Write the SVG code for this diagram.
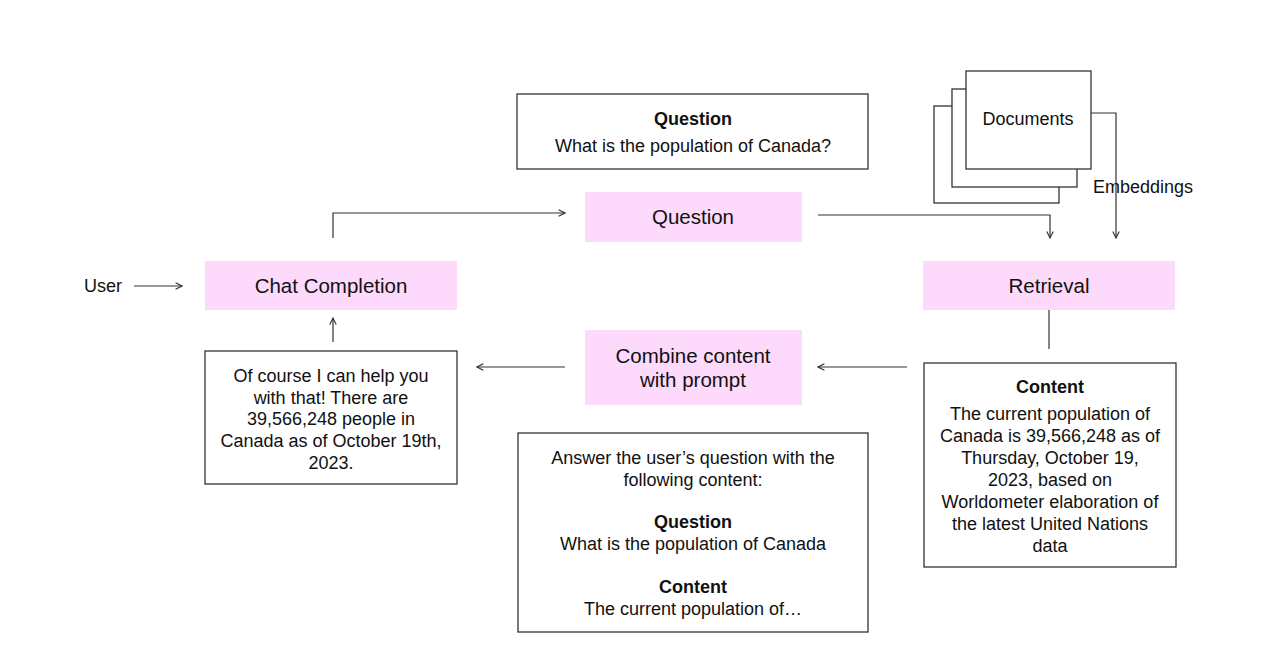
<svg xmlns="http://www.w3.org/2000/svg" width="1272" height="666" viewBox="0 0 1272 666">
<style>
text{font-family:"Liberation Sans",Arial,sans-serif;font-size:18px;fill:#111;text-anchor:middle}
.b{font-weight:bold}
.big{font-size:20.5px}
.pink{fill:#FDD9FB;stroke:none}
.box{fill:#fff;stroke:#333;stroke-width:1.3}
.ln{fill:none;stroke:#333;stroke-width:1.2}
</style>
<defs>
<marker id="ah" viewBox="0 0 10 10" refX="9" refY="5" markerWidth="8" markerHeight="8" markerUnits="userSpaceOnUse" orient="auto">
<path d="M1,1 L9,5 L1,9" fill="none" stroke="#333" stroke-width="1.4"/>
</marker>
</defs>
<rect width="1272" height="666" fill="#fff"/>
<g id="connectors">
<line class="ln" x1="134" y1="286" x2="182" y2="286" marker-end="url(#ah)"/>
<polyline class="ln" points="333,238 333,213 565,213" marker-end="url(#ah)"/>
<polyline class="ln" points="818,215 1050,215 1050,238" marker-end="url(#ah)"/>
<polyline class="ln" points="1091,113 1116,113 1116,238" marker-end="url(#ah)"/>
<line class="ln" x1="1049" y1="310" x2="1049" y2="349"/>
<line class="ln" x1="907" y1="367" x2="818" y2="367" marker-end="url(#ah)"/>
<line class="ln" x1="565" y1="367" x2="477" y2="367" marker-end="url(#ah)"/>
<line class="ln" x1="333" y1="342" x2="333" y2="318" marker-end="url(#ah)"/>
</g>
<g id="user"><text x="103" y="292">User</text></g>
<g id="chat-completion">
<rect class="pink" x="205" y="261" width="252" height="49"/>
<text class="big" x="331" y="293">Chat Completion</text>
</g>
<g id="question-note">
<rect class="box" x="517" y="94" width="351" height="75"/>
<text class="b" x="693" y="125">Question</text>
<text x="693" y="152">What is the population of Canada?</text>
</g>
<g id="question">
<rect class="pink" x="585" y="192" width="217" height="50"/>
<text class="big" x="693" y="224">Question</text>
</g>
<g id="documents">
<rect class="box" x="934" y="106" width="125" height="97"/>
<rect class="box" x="952" y="89" width="125" height="98"/>
<rect class="box" x="966" y="71" width="125" height="98"/>
<text x="1028" y="125">Documents</text>
</g>
<g id="embeddings-label"><text x="1093" y="193" style="text-anchor:start">Embeddings</text></g>
<g id="retrieval">
<rect class="pink" x="923" y="261" width="252" height="49"/>
<text class="big" x="1049" y="293">Retrieval</text>
</g>
<g id="content">
<rect class="box" x="924" y="363" width="252" height="204"/>
<text class="b" x="1050" y="393">Content</text>
<text x="1050" y="420">The current population of</text>
<text x="1050" y="442">Canada is 39,566,248 as of</text>
<text x="1050" y="464">Thursday, October 19,</text>
<text x="1050" y="486">2023, based on</text>
<text x="1050" y="508">Worldometer elaboration of</text>
<text x="1050" y="530">the latest United Nations</text>
<text x="1050" y="552">data</text>
</g>
<g id="combine">
<rect class="pink" x="585" y="330" width="217" height="75"/>
<text class="big" x="693" y="363">Combine content</text>
<text class="big" x="693" y="387">with prompt</text>
</g>
<g id="response">
<rect class="box" x="205" y="351" width="252" height="133"/>
<text x="331" y="382">Of course I can help you</text>
<text x="331" y="404">with that! There are</text>
<text x="331" y="425">39,566,248 people in</text>
<text x="331" y="447">Canada as of October 19th,</text>
<text x="331" y="469">2023.</text>
</g>
<g id="prompt">
<rect class="box" x="518" y="433" width="350" height="199"/>
<text x="693" y="464">Answer the user’s question with the</text>
<text x="693" y="486">following content:</text>
<text class="b" x="693" y="528">Question</text>
<text x="693" y="550">What is the population of Canada</text>
<text class="b" x="693" y="593">Content</text>
<text x="693" y="615">The current population of…</text>
</g>
</svg>
